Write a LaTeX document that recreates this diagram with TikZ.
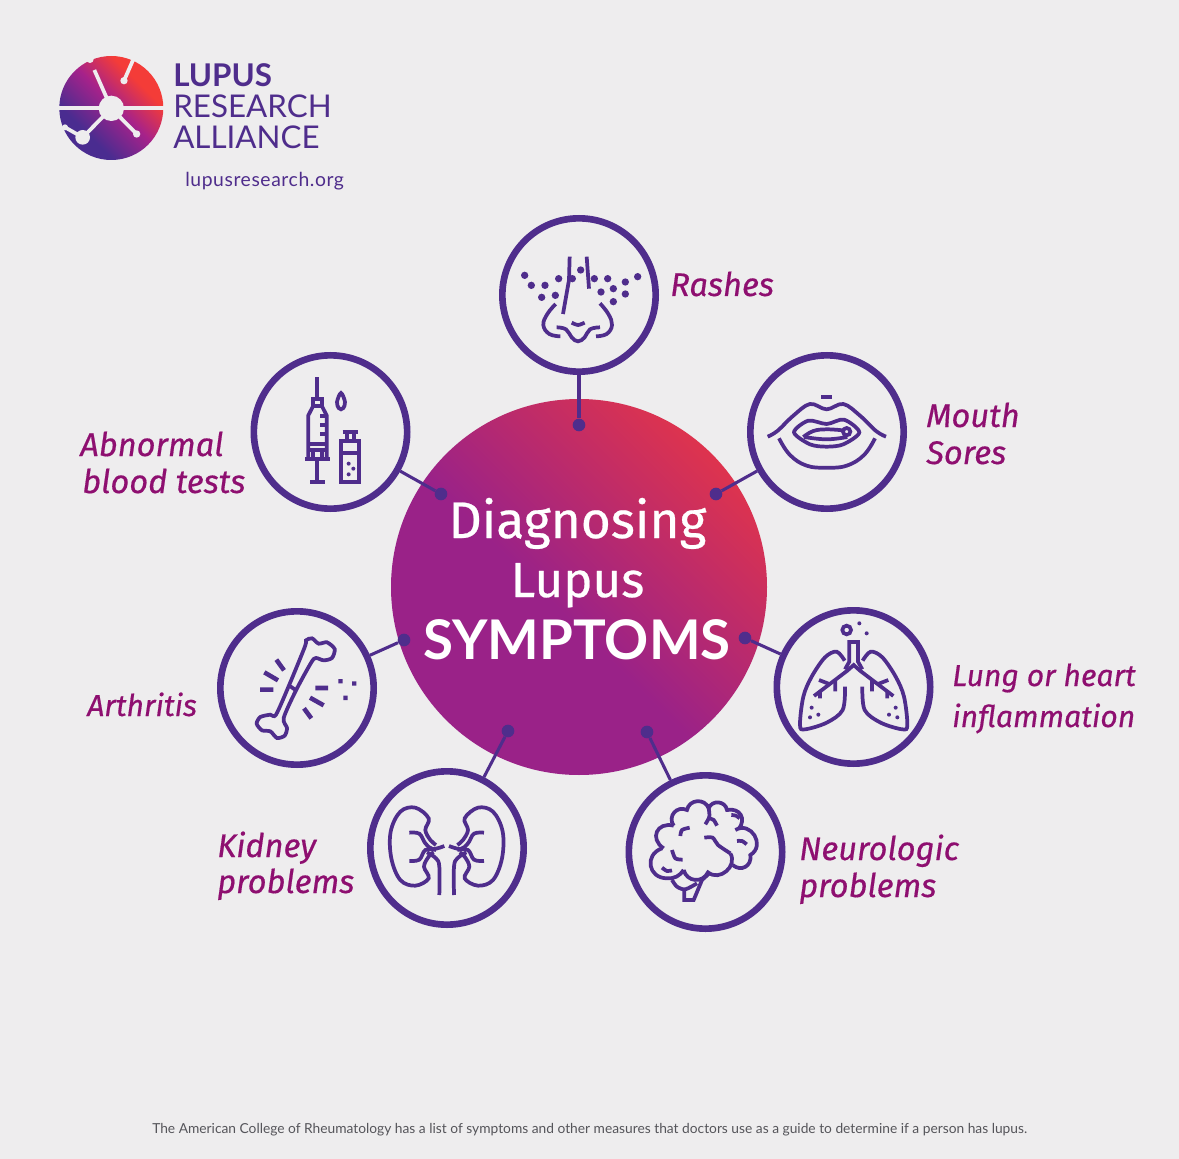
\documentclass[tikz,border=0pt]{standalone}
\usepackage{fontspec}
\setmainfont{Lato}
\newfontfamily\tagfont[FakeBold=0.5]{Fira Sans}
\definecolor{paper}{HTML}{EEEDEE}
\definecolor{lupus}{HTML}{4F2D8C}
\definecolor{plum}{HTML}{8E0F70}
\definecolor{foot}{HTML}{55555A}
\definecolor{HubA}{HTML}{9A2288}
\definecolor{HubB}{HTML}{E0344C}
\definecolor{LogoA}{HTML}{4A2C90}
\definecolor{LogoB}{HTML}{A6228A}
\definecolor{LogoC}{HTML}{F43C38}
\pgfdeclareverticalshading{hubfade}{100bp}{color(0bp)=(HubA);color(46bp)=(HubA);color(76bp)=(HubB);color(100bp)=(HubB)}
\pgfdeclareverticalshading{logofade}{100bp}{color(0bp)=(LogoA);color(33bp)=(LogoA);color(52bp)=(LogoB);color(68bp)=(LogoC);color(100bp)=(LogoC)}
\tikzset{
	ring/.style={draw=lupus, circle, line width=5pt, minimum size=115pt, inner sep=0pt},
	pin/.style={fill=lupus, circle, minimum size=9.5pt, inner sep=0pt},
	link/.style={lupus, line width=2.3pt},
	icon/.style={x=.25pt, y=-.25pt, lupus, line width=2.8pt},
	tag/.style={plum, anchor=base west, inner sep=0pt, font=\tagfont\fontsize{24.5}{28}\selectfont\itshape},
	tagsmall/.style={plum, anchor=base west, inner sep=0pt, font=\tagfont\fontsize{22.6}{28}\selectfont\itshape},
	hubtext/.style={white, anchor=base, inner sep=0pt},
	logotext/.style={lupus, anchor=base west, inner sep=0pt}
}
\begin{document}
\begin{tikzpicture}[x=.75pt, y=-.75pt]
			\fill[paper] (0,0) rectangle (1179,1159);

			% logo
			\node	(logo) at (111.3,108) [circle, minimum size=78pt, inner sep=0pt, shading=logofade, shading angle=-45] {};
			\begin{scope}[shift={(40,40)}, icon, paper]
				\fill (150,58) circle (11) (214,205) circle (38) (252,122) circle (11) (290,282) circle (11) (128,292) circle (22) (75,262) circle (9);
				\draw (52,205) -- (376,205);
				\draw (163,90) -- (214,205);
				\draw (280,58) -- (252,122);
				\draw (214,205) -- (290,282);
				\draw (214,205) -- (128,292) -- (75,262);
			\end{scope}
			\node	(lupus) at (173,87) [logotext, font=\fontsize{23.5}{26}\selectfont\bfseries] {LUPUS};
			\node	(research) at (173,118) [logotext, font=\fontsize{23.5}{26}\selectfont] {RESEARCH};
			\node	(alliance) at (173,149) [logotext, font=\fontsize{23.5}{26}\selectfont] {ALLIANCE};
			\node	(site) at (185,187) [logotext, font=\fontsize{14.5}{17}\selectfont\addfontfeature{LetterSpace=3}] {lupusresearch.org};

			% hub
			\node	(hub) at (579,587) [circle, minimum size=282pt, inner sep=0pt, shading=hubfade, shading angle=-45] {};
			\node	(line1) at (577.5,538) [hubtext, font=\tagfont\fontsize{38.6}{42}\selectfont] {Diagnosing};
			\node	(line2) at (577.5,597) [hubtext, font=\tagfont\fontsize{37}{42}\selectfont] {Lupus};
			\node	(line3) at (577,659) [hubtext, font=\fontsize{41}{44}\selectfont\bfseries] {SYMPTOMS};

			% rings and pins
			\node	(nose) at (579,295) [ring] {};
			\node	(mouth) at (827,432) [ring] {};
			\node	(lung) at (853.5,687) [ring] {};
			\node	(brain) at (705.5,852) [ring] {};
			\node	(kidney) at (447,848) [ring] {};
			\node	(bone) at (297,688) [ring] {};
			\node	(blood) at (330.5,432) [ring] {};
			\node	(nosepin) at (579,425) [pin] {};
			\node	(mouthpin) at (716,494) [pin] {};
			\node	(lungpin) at (745,638) [pin] {};
			\node	(brainpin) at (647,732) [pin] {};
			\node	(kidneypin) at (508,731) [pin] {};
			\node	(bonepin) at (404,640) [pin] {};
			\node	(bloodpin) at (441,494) [pin] {};

			\draw[link]
			(nosepin) edge (nose)
			(mouthpin) edge (mouth)
			(lungpin) edge (lung)
			(brainpin) edge (brain)
			(kidneypin) edge (kidney)
			(bonepin) edge (bone)
			(bloodpin) edge (blood)
			;

			% nose
			\begin{scope}[shift={(490,210)}, icon]
				\fill (104,196) circle (11) (124,226) circle (11) (165,226) circle (11) (206,206) circle (11) (247,206) circle (11) (155,262) circle (11) (196,256) circle (11) (272,180) circle (11) (313,206) circle (11) (353,206) circle (11) (333,246) circle (11) (370,236) circle (11) (406,216) circle (11) (443,200) circle (11) (406,252) circle (11) (370,275) circle (11);
				\draw (239,140) -- (237,210) -- (219,312);
				\draw (290,140) -- (297,236);
				\draw plot[smooth, tension=.7] coordinates {(197,282) (172,312) (160,345) (178,372) (211,379)};
				\draw plot[smooth, tension=.7] coordinates {(200,352) (228,358) (245,382) (264,394) (284,382) (300,358) (330,352)};
				\draw plot[smooth, tension=.7] coordinates {(330,280) (355,312) (366,345) (350,372) (318,379)};
				\draw plot[smooth] coordinates {(245,338) (264,345) (284,338)};
			\end{scope}

			% mouth
			\begin{scope}[shift={(740,345)}, icon]
				\draw (243,157) -- (277,157);
				\draw plot[smooth, tension=.6] coordinates {(83,275) (112,258) (160,212) (210,177) (260,193) (310,177) (360,212) (408,258) (438,275)};
				\draw plot[smooth, tension=.7] coordinates {(117,280) (150,330) (200,362) (260,368) (320,362) (372,330) (405,280)};
				\draw plot[smooth cycle, tension=.5] coordinates {(162,262) (205,227) (260,237) (312,224) (358,262) (310,298) (260,305) (210,298)};
				\draw plot[smooth, tension=.7] coordinates {(190,276) (220,258) (260,253) (308,256)};
				\draw plot[smooth, tension=.7] coordinates {(192,276) (260,283) (322,276)};
				\draw[fill=paper] (320,260) circle (11);
			\end{scope}

			% lungs
			\begin{scope}[shift={(770,600)}, icon]
				\draw (230,90) circle (13);
				\fill (268,70) circle (6) (290,100) circle (6) (125,323) circle (6) (145,344) circle (6) (120,352) circle (6) (377,323) circle (6) (357,344) circle (6) (382,352) circle (6);
				\draw (225,208) -- (238,185) -- (238,126) -- (264,126) -- (264,185) -- (277,208);
				\draw (132,288) -- (232,212) -- (251,195) -- (270,212) -- (370,288);
				\draw (147,240) -- (178,252) (196,238) -- (196,274) (150,275) -- (150,295);
				\draw (355,240) -- (324,252) (306,238) -- (306,274) (352,275) -- (352,295);
				\draw plot[smooth, tension=.55] coordinates {(224,182) (200,155) (165,172) (125,230) (100,290) (90,375) (105,388) (170,368) (218,330) (225,260)};
				\draw plot[smooth, tension=.55] coordinates {(278,182) (302,155) (337,172) (377,230) (402,290) (412,375) (397,388) (332,368) (284,330) (277,260)};
			\end{scope}

			% brain
			\begin{scope}[shift={(622,765)}, icon]
				\draw (155,182) to[bend left=75, looseness=1.4] (195,135)
				to[bend left=75, looseness=1.3] (260,130)
				to[bend left=75, looseness=1.3] (315,135)
				to[bend left=70, looseness=1.5] (350,192);
				\draw (340,195) to[bend left=90, looseness=1.6] (385,270)
				to[bend left=70, looseness=1.4] (332,300);
				\draw (155,182) to[bend right=80, looseness=1.8] (125,250);
				\draw (120,250) to[bend right=80, looseness=1.6] (135,340)
				to[bend right=30] (185,315);
				\draw (185,315) to[bend right=70, looseness=1.3] (258,322)
				to[bend right=80, looseness=1.3] (325,265);
				\draw plot[smooth] coordinates {(150,345) (165,365) (190,373) (225,355)};
				\draw (262,325) -- (240,345) -- (215,405) -- (187,405) -- (187,375);
				\draw plot[smooth] coordinates {(203,188) (180,195) (175,213)};
				\draw plot[smooth] coordinates {(120,308) (135,318) (150,316)};
				\draw plot[smooth] coordinates {(328,150) (342,152) (353,160)};
				\draw plot[smooth] coordinates {(345,228) (360,228) (374,238)};
				\draw plot[smooth] coordinates {(247,218) (272,218) (288,240) (325,265)};
				\draw plot[smooth] coordinates {(150,255) (160,280) (182,284)};
				\draw plot[smooth] coordinates {(260,130) (262,155) (250,178)};
				\draw plot[smooth] coordinates {(262,160) (275,165) (285,182)};
			\end{scope}

			% kidneys
			\begin{scope}[shift={(362,765)}, icon]
				\draw plot[smooth, tension=.6] coordinates {(222,240) (205,225) (190,195) (200,160) (160,128) (115,140) (86,200) (88,280) (115,345) (160,362) (200,340) (186,305) (200,275) (215,262)};
				\draw plot[smooth, tension=.6] coordinates {(286,240) (303,225) (318,195) (308,160) (348,128) (393,140) (422,200) (420,280) (393,345) (348,362) (308,340) (322,305) (308,275) (293,262)};
				\draw plot[smooth, tension=.6] coordinates {(142,203) (172,206) (190,235) (212,252) (247,243)};
				\draw plot[smooth, tension=.6] coordinates {(366,203) (336,206) (318,235) (296,252) (261,243)};
				\draw plot[smooth, tension=.6] coordinates {(142,288) (172,284) (190,255) (222,255)};
				\draw plot[smooth, tension=.6] coordinates {(366,288) (336,284) (318,255) (286,255)};
				\draw plot[smooth, tension=.6] coordinates {(232,390) (232,305) (222,280) (195,262)};
				\draw plot[smooth, tension=.6] coordinates {(276,390) (276,305) (286,280) (313,262)};
			\end{scope}

			% bone
			\begin{scope}[shift={(212,603)}, icon]
				\draw plot[smooth cycle, tension=.45] coordinates {(279,130) (282,112) (300,106) (320,122) (345,118) (368,138) (360,165) (335,172) (312,165) (298,178) (252,262) (215,345) (225,375) (218,398) (195,405) (175,385) (150,382) (134,362) (145,342) (175,335) (192,335) (232,245)};
				\draw (235,250) -- (252,262);
				\draw[line width=3.4pt] (144,260) -- (184,260) (157,208) -- (198,232) (193,170) -- (216,202) (310,255) -- (348,255) (294,284) -- (335,307) (276,316) -- (298,346);
				\fill (379,228) rectangle +(13,13) (420,235) rectangle +(13,13) (394,278) rectangle +(13,13);
			\end{scope}

			% syringe and vial
			\begin{scope}[shift={(245,347)}, icon]
				\draw (217,90) -- (217,155);
				\draw (204,155) rectangle (231,178);
				\draw (204,178) -- (190,205) -- (190,332) (231,178) -- (245,205) -- (245,332);
				\draw (190,290) -- (245,290) (190,308) -- (245,308);
				\draw (225,208) -- (245,208) (225,235) -- (245,235) (225,262) -- (245,262);
				\draw (204,308) -- (204,332) (231,308) -- (231,332);
				\draw (180,335) -- (256,335);
				\draw (217,335) -- (217,405) (196,405) -- (240,405);
				\draw plot[smooth cycle, tension=.6] coordinates {(288,138) (300,165) (295,183) (288,187) (281,183) (276,165)};
				\draw (293,254) -- (338,254) (305,254) -- (305,280) (327,254) -- (327,280);
				\draw (289,282) rectangle (343,404);
				\draw (289,317) -- (343,317);
				\fill (311,350) circle (6) (325,365) circle (6) (311,382) circle (6);
			\end{scope}

			% labels
			\node	(nosetag) at (670,296) [tag] {Rashes};
			\node	(mouthtag) at (926,427) [tag] {Mouth};
			\node	(mouthtagb) at (926,464) [tag] {Sores};
			\node	(lungtag) at (952,686) [tagsmall] {Lung or heart};
			\node	(lungtagb) at (952,727) [tagsmall] {inflammation};
			\node	(braintag) at (799,860) [tag] {Neurologic};
			\node	(braintagb) at (799,897) [tag] {problems};
			\node	(kidneytag) at (217,857) [tag] {Kidney};
			\node	(kidneytagb) at (217,893) [tag] {problems};
			\node	(bonetag) at (87,716) [tagsmall] {Arthritis};
			\node	(bloodtag) at (80,456) [tag] {Abnormal};
			\node	(bloodtagb) at (82,493) [tag] {blood tests};
			\node	(note) at (152,1133) [foot, anchor=base west, inner sep=0pt, font=\fontsize{10.33}{12}\selectfont] {The American College of Rheumatology has a list of symptoms and other measures that doctors use as a guide to determine if a person has lupus.};
		\end{tikzpicture}
\end{document}
